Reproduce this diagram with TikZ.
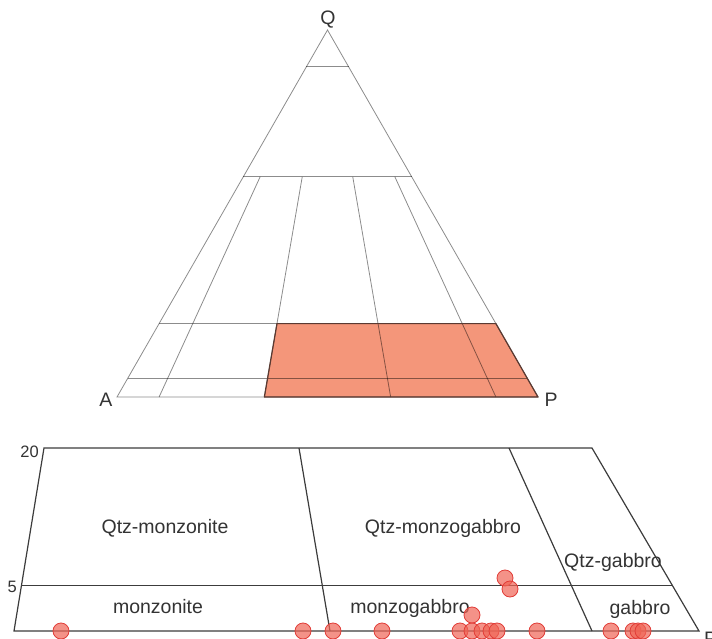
\documentclass[tikz,border=0pt]{standalone}
\usepackage{fontspec}
\setmainfont{Liberation Sans}
\usetikzlibrary{calc}

\definecolor{zonefill}{RGB}{244,150,122}
\definecolor{zoneedge}{RGB}{90,58,50}
\definecolor{dotfill}{RGB}{240,100,85}
\definecolor{dotedge}{RGB}{225,60,55}
\definecolor{panel}{RGB}{60,60,60}

\begin{document}
\begin{tikzpicture}[x=1pt, y=-1pt, grid/.style={draw=black, draw opacity=0.45, line width=0.8pt}, rim/.style={draw=zoneedge, line width=1.2pt, line join=round}, frame/.style={draw=panel, line width=1.2pt, line join=miter}, dot/.style={circle, draw=dotedge, fill=dotfill, fill opacity=0.7, line width=0.8pt, minimum size=16pt, inner sep=0pt}, lab/.style={font=\fontsize{19.5}{22}\selectfont, text=black!80, anchor=base, inner sep=0pt}, tick/.style={font=\fontsize{16.5}{19}\selectfont, text=black!80, anchor=base east, inner sep=0pt}]
            \useasboundingbox (0,0) rectangle (712,639);
            % triangle corners
            \coordinate (Q) at (327.5,30);
            \coordinate (A) at (117,397);
            \coordinate (P) at (538,397);
            \foreach \t in {10,35,65,90} {
                \coordinate (b\t) at ($(A)!\t/100!(P)$);
            }
            % filled field
            \fill[zonefill] (b35) -- ($(b35)!0.2!(Q)$) -- ($(P)!0.2!(Q)$) -- (P) -- cycle;
            % triangle grid
            \draw[grid] (A) -- (Q) -- (P) -- cycle;
            \foreach \h in {0.9,0.6,0.2,0.05} {
                \draw[grid] ($(A)!\h!(Q)$) -- ($(P)!\h!(Q)$);
            }
            \foreach \t in {10,35,65,90} {
                \draw[grid] ($(b\t)!0.6!(Q)$) -- (b\t);
            }
            \draw[rim] (b35) -- ($(b35)!0.2!(Q)$) -- ($(P)!0.2!(Q)$) -- (P) -- cycle;
            % apex labels
            \node[lab] (lQ) at (328,25) {Q};
            \node[lab] (lA) at (106,406) {A};
            \node[lab] (lP) at (551,406) {P};
            % lower panel
            \coordinate (TL) at (44,448);
            \coordinate (BL) at (14,631);
            \coordinate (TR) at (592,448);
            \coordinate (BR) at (699,631);
            \coordinate (m1) at (299,448);
            \coordinate (n1) at (330,631);
            \coordinate (m2) at (509,448);
            \coordinate (n2) at (592,631);
            \draw[frame] (BR) -- (BL) -- (TL) -- (TR) -- cycle;
            \draw[frame] (m1) -- (n1);
            \draw[frame] (m2) -- (n2);
            \draw[frame] ($(BL)!0.25!(TL)$) -- ($(BR)!0.25!(TR)$);
            \node[tick] (t20) at (39,457) {20};
            \node[tick] (t5) at (17,592) {5};
            \node[lab, anchor=base west] (lP2) at (704,645) {P};
            % field names
            \node[lab] (qmz) at (165,533) {Qtz-monzonite};
            \node[lab] (mz) at (158,613) {monzonite};
            \node[lab] (qmg) at (443,533) {Qtz-monzogabbro};
            \node[lab] (qgb) at (613,567) {Qtz-gabbro};
            \node[lab] (mg) at (410,613) {monzogabbro};
            \node[lab] (gb) at (640,614) {gabbro};
            % samples
            \foreach \x/\y [count=\i] in {61/631, 303/631, 333/631, 382/631, 460/631, 472/631, 482/631, 491/631, 497/631, 537/631, 611/631, 633/631, 638/631, 643/631, 472/615, 505/578, 510/589} {
                \node[dot] (s\i) at (\x,\y) {};
            }
        \end{tikzpicture}
\end{document}
